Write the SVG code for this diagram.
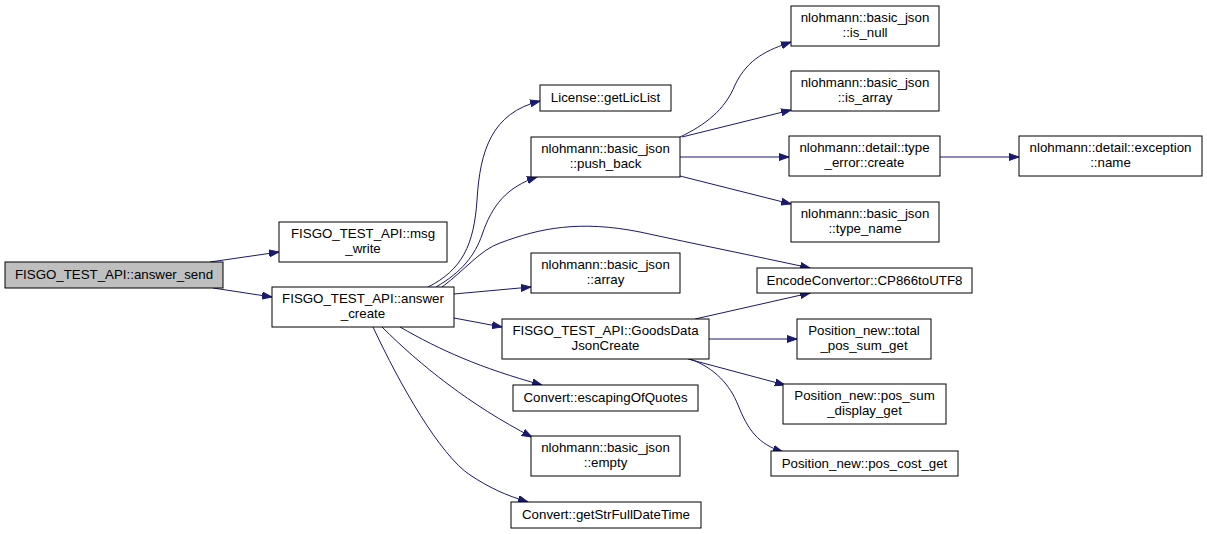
<svg xmlns="http://www.w3.org/2000/svg" width="1207" height="534" viewBox="0 0 1207 534">
<defs>
<marker id="arr" markerWidth="11" markerHeight="8" refX="10" refY="4" orient="auto" markerUnits="userSpaceOnUse">
<path d="M0,0.5 L10,4 L0,7.5 Z" fill="#191970" stroke="#191970" stroke-width="1"/>
</marker>
<style>
.n rect{fill:#ffffff;stroke:#000000;stroke-width:1}
.root rect{fill:#bfbfbf;stroke:#000000;stroke-width:1}
text{font-family:"Liberation Sans",Arial,Helvetica,sans-serif;font-size:13.3px;fill:#000000;text-anchor:middle}
.e path{fill:none;stroke:#191970;stroke-width:1;marker-end:url(#arr)}
</style>
</defs>
<rect width="1207" height="534" fill="#ffffff"/>
<g class="e" id="edges">
<path d="M210,262 L279,252"/>
<path d="M213,288 L272,297"/>
<path d="M428,287 C462,270 474,245 477,200 C480,150 492,113 540,101"/>
<path d="M436,287 C462,272 475,255 482,235 C492,205 507,187 537,177"/>
<path d="M442,287 C465,270 480,250 500,243 C540,228 580,220 640,232 C700,245 750,255 810,268"/>
<path d="M454,294 L531,287"/>
<path d="M454,318 L502,327"/>
<path d="M400,327 C440,350 480,368 542,385"/>
<path d="M382,327 C420,365 470,405 532,437"/>
<path d="M373,327 C400,385 440,455 470,475 C490,488 505,495 528,502"/>
<path d="M680,137 C705,125 725,110 735,85 C748,58 768,50 791,42"/>
<path d="M682,137 L791,110"/>
<path d="M680,157 L789,157"/>
<path d="M680,176 L791,204"/>
<path d="M940,157 L1019,157"/>
<path d="M695,319 L810,293"/>
<path d="M709,339 L797,339"/>
<path d="M688,359 L785,385"/>
<path d="M690,359 C715,368 730,385 738,405 C748,430 758,444 783,452"/>
</g>
<g id="node_answer_send" class="root"><rect x="5" y="262" width="218" height="26"/><text x="114" y="279">FISGO_TEST_API::answer_send</text></g>
<g id="node_msg_write" class="n"><rect x="279" y="222" width="168" height="40"/><text x="363" y="238">FISGO_TEST_API::msg</text><text x="363" y="253">_write</text></g>
<g id="node_answer_create" class="n"><rect x="272" y="287" width="182" height="40"/><text x="363" y="303">FISGO_TEST_API::answer</text><text x="363" y="318">_create</text></g>
<g id="node_getLicList" class="n"><rect x="540" y="85" width="131" height="26"/><text x="605.5" y="102">License::getLicList</text></g>
<g id="node_push_back" class="n"><rect x="531" y="137" width="149" height="40"/><text x="605.5" y="153">nlohmann::basic_json</text><text x="605.5" y="168">::push_back</text></g>
<g id="node_array" class="n"><rect x="531" y="253" width="149" height="40"/><text x="605.5" y="269">nlohmann::basic_json</text><text x="605.5" y="284">::array</text></g>
<g id="node_goods" class="n"><rect x="502" y="319" width="207" height="40"/><text x="605.5" y="335">FISGO_TEST_API::GoodsData</text><text x="605.5" y="350">JsonCreate</text></g>
<g id="node_escaping" class="n"><rect x="513" y="385" width="185" height="26"/><text x="605.5" y="402">Convert::escapingOfQuotes</text></g>
<g id="node_empty" class="n"><rect x="531" y="436" width="149" height="40"/><text x="605.5" y="452">nlohmann::basic_json</text><text x="605.5" y="467">::empty</text></g>
<g id="node_getStr" class="n"><rect x="511" y="502" width="190" height="26"/><text x="606" y="519">Convert::getStrFullDateTime</text></g>
<g id="node_is_null" class="n"><rect x="791" y="6" width="148" height="40"/><text x="865" y="22">nlohmann::basic_json</text><text x="865" y="37">::is_null</text></g>
<g id="node_is_array" class="n"><rect x="791" y="71" width="148" height="40"/><text x="865" y="87">nlohmann::basic_json</text><text x="865" y="102">::is_array</text></g>
<g id="node_type_error" class="n"><rect x="789" y="136" width="151" height="40"/><text x="864.5" y="152">nlohmann::detail::type</text><text x="864.5" y="167">_error::create</text></g>
<g id="node_exception_name" class="n"><rect x="1019" y="136" width="183" height="40"/><text x="1110.5" y="152">nlohmann::detail::exception</text><text x="1110.5" y="167">::name</text></g>
<g id="node_type_name" class="n"><rect x="791" y="202" width="148" height="40"/><text x="865" y="218">nlohmann::basic_json</text><text x="865" y="233">::type_name</text></g>
<g id="node_cp866" class="n"><rect x="757" y="268" width="215" height="25"/><text x="864.5" y="285">EncodeConvertor::CP866toUTF8</text></g>
<g id="node_total_pos" class="n"><rect x="797" y="319" width="134" height="40"/><text x="864" y="335">Position_new::total</text><text x="864" y="350">_pos_sum_get</text></g>
<g id="node_pos_sum_display" class="n"><rect x="783" y="384" width="163" height="40"/><text x="864.5" y="400">Position_new::pos_sum</text><text x="864.5" y="415">_display_get</text></g>
<g id="node_pos_cost" class="n"><rect x="771" y="451" width="187" height="25"/><text x="864.5" y="468">Position_new::pos_cost_get</text></g>
</svg>
